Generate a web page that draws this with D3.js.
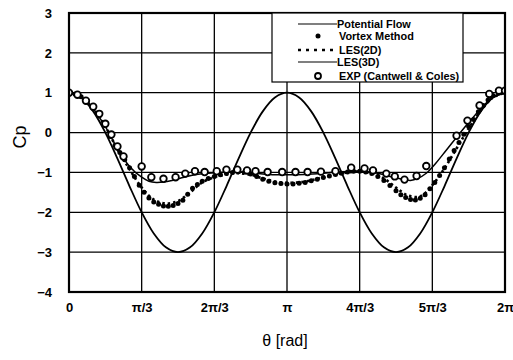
<!DOCTYPE html>
<html><head><meta charset="utf-8">
<script src="https://cdn.jsdelivr.net/npm/d3@7"></script>
<style>body{margin:0;background:#fff}svg{display:block}</style>
</head><body>
<svg id="c" width="513" height="360"></svg>
<script>
// theta in degrees, Cp values
const xTickVals = [0, 60, 120, 180, 240, 300, 360];
const xTickLabels = ["0", "π/3", "2π/3", "π", "4π/3", "5π/3", "2π"];
const yTickVals = [-4, -3, -2, -1, 0, 1, 2, 3];

const potTheta = [0,10,20,30,40,50,60,70,80,90,100,110,120,130,140,150,160,170,180,190,200,210,220,230,240,250,260,270,280,290,300,310,320,330,340,350,360];
const potCp = [1,0.879,0.532,0,-0.653,-1.347,-2,-2.532,-2.879,-3,-2.879,-2.532,-2,-1.347,-0.653,0,0.532,0.879,1,0.879,0.532,0,-0.653,-1.347,-2,-2.532,-2.879,-3,-2.879,-2.532,-2,-1.347,-0.653,0,0.532,0.879,1];

const vortexTheta = [0,5,10,15,20,25,30,34,38,42,46,50,54,58,62,66,70,74,78,82,86,90,94,98,102,106,110,115,120,125,130,135,140,145,150,155,160,165,170,175,180,185,190,195,200,205,210,215,220,225,230,235,240,245,250,255,260,265,270,274,278,282,286,290,294,298,302,306,310,314,318,322,326,330,334,338,342,346,350,355,360];
const vortexCp = [1.0,0.97,0.9,0.78,0.62,0.42,0.18,-0.1,-0.32,-0.5,-0.68,-0.88,-1.1,-1.32,-1.5,-1.64,-1.74,-1.8,-1.84,-1.85,-1.83,-1.78,-1.7,-1.55,-1.4,-1.3,-1.22,-1.15,-1.1,-1.06,-1.03,-1.0,-0.98,-0.99,-1.04,-1.1,-1.17,-1.22,-1.26,-1.28,-1.29,-1.29,-1.27,-1.25,-1.21,-1.17,-1.13,-1.09,-1.05,-1.02,-0.99,-0.97,-0.97,-0.99,-1.03,-1.1,-1.2,-1.33,-1.46,-1.56,-1.63,-1.68,-1.69,-1.65,-1.56,-1.41,-1.25,-1.08,-0.88,-0.66,-0.45,-0.25,-0.04,0.15,0.33,0.52,0.68,0.82,0.93,1.0,1.02];

const les2dTheta = [0,10,20,30,40,50,60,70,80,90,100,110,120,130,140,150,160,170,180,190,200,210,220,230,240,250,260,270,280,290,300,310,320,330,340,350,360];
const les2dCp = [1,0.88,0.6,0.15,-0.42,-0.92,-1.38,-1.68,-1.78,-1.72,-1.5,-1.25,-1.12,-1.05,-1.02,-1.06,-1.15,-1.23,-1.26,-1.25,-1.2,-1.12,-1.05,-1.0,-0.98,-1.02,-1.15,-1.38,-1.58,-1.6,-1.32,-0.9,-0.4,0.1,0.55,0.88,1.0];

const les3dTheta = [0,10,20,30,40,50,60,66,72,78,85,95,105,115,125,135,145,155,165,180,195,210,225,240,255,265,275,282,288,295,302,310,320,330,340,350,360];
const les3dCp = [1,0.9,0.6,0.15,-0.4,-0.85,-1.12,-1.22,-1.25,-1.24,-1.2,-1.12,-1.05,-1.02,-1.0,-0.98,-0.99,-1.02,-1.05,-1.06,-1.05,-1.02,-0.98,-0.97,-1.02,-1.1,-1.17,-1.2,-1.15,-1.02,-0.8,-0.5,-0.12,0.25,0.6,0.88,1.0];

const expTheta = [0,7,14,20,25,30,35,40,45,60,68,78,88,96,104,112,122,130,139,147,154,164,176,187,197,208,220,233,244,251,262,269,277,287,295,320,329,339,347,355,360];
const expCp = [1.0,0.95,0.8,0.65,0.47,0.22,-0.05,-0.35,-0.6,-0.85,-1.12,-1.16,-1.12,-1.03,-0.97,-0.99,-0.97,-0.93,-0.93,-0.95,-0.97,-0.99,-0.99,-0.99,-0.99,-0.98,-0.97,-0.88,-0.9,-0.95,-1.03,-1.1,-1.18,-1.09,-0.84,-0.08,0.3,0.68,0.97,1.05,1.05];

const legendLabels = ["Potential Flow", "Vortex Method", "LES(2D)", "LES(3D)", "EXP (Cantwell & Coles)"];

const svg = d3.select("#c");
const L = 69, R = 505, T = 13, B = 292;
const x = d3.scaleLinear().domain([0, 360]).range([L, R]);
const y = d3.scaleLinear().domain([-4, 3]).range([B, T]);

// grid
const g = svg.append("g");
g.selectAll("line.h").data(yTickVals).join("line")
  .attr("x1", L).attr("x2", R).attr("y1", d => y(d)).attr("y2", d => y(d))
  .attr("stroke", "#000").attr("stroke-width", 1.3);
g.selectAll("line.v").data(xTickVals).join("line")
  .attr("y1", T).attr("y2", B).attr("x1", d => x(d)).attr("x2", d => x(d))
  .attr("stroke", "#000").attr("stroke-width", 1.3);

// axes labels
const yAxis = d3.axisLeft(y).tickValues(yTickVals).tickSize(0).tickPadding(17).tickFormat(d3.format("d"));
svg.append("g").attr("transform", `translate(${L},0)`).call(yAxis)
  .call(a => a.select(".domain").remove())
  .selectAll("text").attr("font-family", "Liberation Sans, Arial, sans-serif")
  .attr("font-weight", "bold").attr("font-size", 13).attr("fill", "#000");
const xAxis = d3.axisBottom(x).tickValues(xTickVals).tickSize(0).tickPadding(11).tickFormat((d, i) => xTickLabels[i]);
svg.append("g").attr("transform", `translate(0,${B})`).call(xAxis)
  .call(a => a.select(".domain").remove())
  .selectAll("text").attr("font-family", "Liberation Sans, Arial, sans-serif")
  .attr("font-weight", "bold").attr("font-size", 13).attr("fill", "#000");

svg.append("text").attr("x", 285).attr("y", 346).attr("text-anchor", "middle")
  .attr("font-family", "Liberation Sans, Arial, sans-serif").attr("font-size", 16).text("θ [rad]");
svg.append("text").attr("transform", "translate(26,137) rotate(-90)").attr("text-anchor", "middle")
  .attr("font-family", "Liberation Sans, Arial, sans-serif").attr("font-size", 18).text("Cp");

svg.append("clipPath").attr("id", "clip").append("rect").attr("x", L).attr("y", T).attr("width", R - L).attr("height", B - T);
const plot = svg.append("g").attr("clip-path", "url(#clip)");

const line = d3.line().x(d => x(d[0])).y(d => y(d[1])).curve(d3.curveCatmullRom);
const zip = (a, b) => a.map((v, i) => [v, b[i]]);

plot.append("path").datum(zip(potTheta, potCp)).attr("d", line)
  .attr("fill", "none").attr("stroke", "#000").attr("stroke-width", 1.8);
plot.append("path").datum(zip(les3dTheta, les3dCp)).attr("d", line)
  .attr("fill", "none").attr("stroke", "#000").attr("stroke-width", 1.5);
plot.append("path").datum(zip(les2dTheta, les2dCp)).attr("d", line)
  .attr("fill", "none").attr("stroke", "#000").attr("stroke-width", 2.6).attr("stroke-dasharray", "2.5,3");
plot.selectAll("circle.vm").data(zip(vortexTheta, vortexCp)).join("circle")
  .attr("cx", d => x(d[0])).attr("cy", d => y(d[1])).attr("r", 2.5).attr("fill", "#000");
plot.selectAll("circle.ex").data(zip(expTheta, expCp)).join("circle")
  .attr("cx", d => x(d[0])).attr("cy", d => y(d[1])).attr("r", 3.3)
  .attr("fill", "#fff").attr("stroke", "#000").attr("stroke-width", 1.8);

// frame
svg.append("rect").attr("x", L).attr("y", T).attr("width", R - L).attr("height", B - T)
  .attr("fill", "none").attr("stroke", "#000").attr("stroke-width", 2.2);

// legend
const lg = svg.append("g");
lg.append("rect").attr("x", 272).attr("y", 13).attr("width", 191).attr("height", 69)
  .attr("fill", "#fff").attr("stroke", "#000").attr("stroke-width", 1.2);
const ly = [24, 36, 50, 62, 76];
lg.selectAll("text").data(legendLabels).join("text")
  .attr("x", (d, i) => (i === 0 || i === 3) ? 337 : 339).attr("y", (d, i) => ly[i] + 3.8)
  .attr("font-family", "Liberation Sans, Arial, sans-serif").attr("font-weight", "bold")
  .attr("font-size", 10.9).text(d => d);
lg.append("line").attr("x1", 298).attr("x2", 337).attr("y1", ly[0]).attr("y2", ly[0]).attr("stroke", "#000").attr("stroke-width", 1.2);
lg.append("circle").attr("cx", 318).attr("cy", ly[1]).attr("r", 2.5).attr("fill", "#000");
lg.append("line").attr("x1", 298).attr("x2", 338).attr("y1", ly[2]).attr("y2", ly[2]).attr("stroke", "#000").attr("stroke-width", 2.4).attr("stroke-dasharray", "3,5");
lg.append("line").attr("x1", 298).attr("x2", 337).attr("y1", ly[3]).attr("y2", ly[3]).attr("stroke", "#000").attr("stroke-width", 1.2);
lg.append("circle").attr("cx", 318).attr("cy", ly[4]).attr("r", 3).attr("fill", "#fff").attr("stroke", "#000").attr("stroke-width", 1.8);
</script>
</body></html>
